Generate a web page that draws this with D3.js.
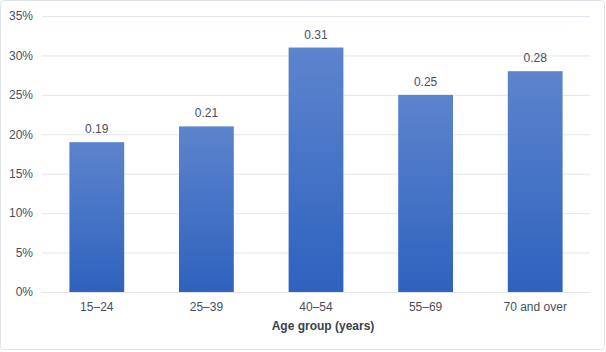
<!DOCTYPE html>
<html>
<head>
<meta charset="utf-8">
<script src="https://cdn.jsdelivr.net/npm/d3@7"></script>
<style>
  body { margin: 0; background: #fff; }
  svg { display: block; font-family: "Liberation Sans", Arial, sans-serif; }
  .tick text { fill: #474f5e; font-size: 12px; }
  .grid line { stroke: #e3e6ee; stroke-width: 1; }
  .value-label { fill: #474f5e; font-size: 12px; }
  .axis-title { fill: #3a4150; font-size: 12px; font-weight: bold; }
</style>
</head>
<body>
<div id="chart"></div>
<script>
// age groups and share in each group
const categories = ["15\u201324", "25\u201339", "40\u201354", "55\u201369", "70 and over"];
const values = [0.19, 0.21, 0.31, 0.25, 0.28];
const yTicks = [0, 0.05, 0.10, 0.15, 0.20, 0.25, 0.30, 0.35];

const width = 606, height = 352;
const margin = { top: 16, right: 16, bottom: 60, left: 42 };

let svg = d3.select("#chart")
    .append("svg")
    .attr("width", width)
    .attr("height", height);

// outer frame
svg.append("rect")
    .attr("x", 0.5).attr("y", 0.5)
    .attr("width", width - 2).attr("height", height - 3)
    .attr("rx", 3)
    .attr("fill", "#fff")
    .attr("stroke", "#dfe4ea");

let defs = svg.append("defs");
let grad = defs.append("linearGradient")
    .attr("id", "barGrad")
    .attr("x1", 0).attr("y1", 0).attr("x2", 0).attr("y2", 1);
grad.append("stop").attr("offset", "0%").attr("stop-color", "#5d84cd");
grad.append("stop").attr("offset", "100%").attr("stop-color", "#2e62be");

let x = d3.scaleBand()
    .domain(categories)
    .range([margin.left, width - 16])
    .paddingInner(0.5)
    .paddingOuter(0.25);

let y = d3.scaleLinear()
    .domain([0, 0.35])
    .range([height - margin.bottom, margin.top]);

// gridlines + y labels
let yAxis = d3.axisLeft(y)
    .tickValues(yTicks)
    .tickFormat(d3.format(".0%"))
    .tickSize(-(width - 16 - margin.left))
    .tickPadding(9);

svg.append("g")
    .attr("class", "grid")
    .attr("transform", `translate(${margin.left},0)`)
    .call(yAxis)
    .call(g => g.select(".domain").remove());

// bars
svg.append("g")
    .selectAll("rect")
    .data(values)
    .join("rect")
    .attr("x", (d, i) => x(categories[i]))
    .attr("y", d => y(d))
    .attr("width", x.bandwidth())
    .attr("height", d => y(0) - y(d))
    .attr("fill", "url(#barGrad)");

// value labels
svg.append("g")
    .selectAll("text")
    .data(values)
    .join("text")
    .attr("class", "value-label")
    .attr("x", (d, i) => x(categories[i]) + x.bandwidth() / 2)
    .attr("y", d => y(d) - 9)
    .attr("text-anchor", "middle")
    .text(d => d3.format(".2f")(d));

// x axis labels
let xAxis = d3.axisBottom(x).tickSize(0).tickPadding(10);
svg.append("g")
    .attr("transform", `translate(0,${y(0)})`)
    .call(xAxis)
    .call(g => g.select(".domain").remove());

svg.append("text")
    .attr("class", "axis-title")
    .attr("x", 323)
    .attr("y", 330)
    .attr("text-anchor", "middle")
    .text("Age group (years)");
</script>
</body>
</html>
